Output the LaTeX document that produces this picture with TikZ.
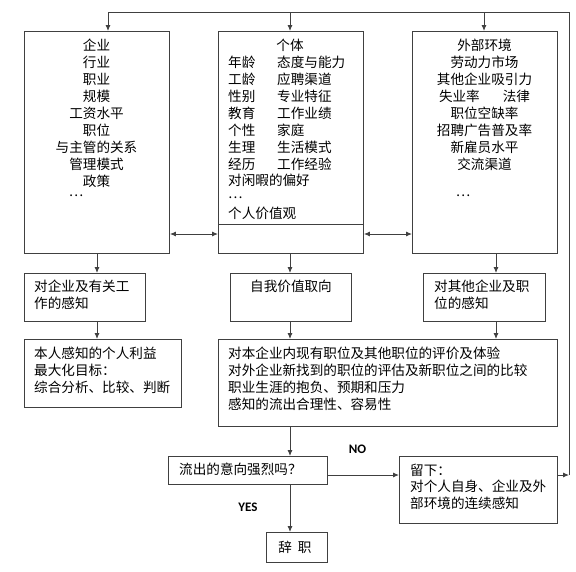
\documentclass[tikz,border=0pt]{standalone}
\usepackage{fontspec}
\newfontfamily\cjk{Noto Sans CJK SC}
\newfontfamily\carlito{Carlito}
\usetikzlibrary{arrows.meta}

\begin{document}
\begin{tikzpicture}
  [
    x = 1pt, y = -1pt,
    box/.style = {draw = black!75, line width = 0.9pt, anchor = north west, inner sep = 0pt},
    wire/.style = {draw = black!75, line width = 0.9pt},
    flow/.style = {wire, -{Latex[length = 6pt, width = 5pt]}},
    link/.style = {wire, {Latex[length = 6pt, width = 5pt]}-{Latex[length = 6pt, width = 5pt]}},
    txt/.style = {font = \cjk\fontsize{13.6}{17}\selectfont, inner sep = 0pt},
    yesno/.style = {font = \carlito\bfseries\fontsize{13}{15}\selectfont, inner sep = 0pt},
  ]

  \useasboundingbox (0,0) rectangle (576,571);

  \node[box, minimum width = 145, minimum height = 222] (org) at (24,31) {};
  \node[box, minimum width = 145, minimum height = 222] (person) at (218,31) {};
  \node[box, minimum width = 145, minimum height = 222] (env) at (412,31) {};
  \node[box, minimum width = 121, minimum height = 48] (orgview) at (24,273) {};
  \node[box, minimum width = 121, minimum height = 48] (selfview) at (230,273) {};
  \node[box, minimum width = 122, minimum height = 48] (envview) at (423,273) {};
  \node[box, minimum width = 157, minimum height = 68] (gain) at (24,339) {};
  \node[box, minimum width = 339, minimum height = 87] (judge) at (218,339) {};
  \node[box, minimum width = 159, minimum height = 28] (ask) at (168,456) {};
  \node[box, minimum width = 158, minimum height = 67] (stay) at (399,456) {};
  \node[box, minimum width = 61, minimum height = 30] (quit) at (266,532) {};

  \draw[wire] (person.west |- 0,224) -- (person.east |- 0,224);

  \foreach \t [count=\i] in {企业, 行业, 职业, 规模, 工资水平, 职位, 与主管的关系, 管理模式, 政策}
  \node[txt] (orgitem\i) at (96.5, {28+17*\i}) {\t};
  \node[txt] (orgmore) at (76,196) {…};

  \node[txt] (personhead) at (290,45) {个体};
  \foreach \a/\b [count=\i] in {年龄/态度与能力, 工龄/应聘渠道, 性别/专业特征, 教育/工作业绩,
      个性/家庭, 生理/生活模式, 经历/工作经验}{
      \node[txt, anchor = west] (persona\i) at (228, {45+17*\i}) {\a};
      \node[txt, anchor = west] (personb\i) at (277, {45+17*\i}) {\b};
    }
  \node[txt, anchor = west] (leisure) at (228,180.5) {对闲暇的偏好};
  \node[txt, anchor = west] (personmore) at (228,197.5) {…};
  \node[txt, anchor = west] (values) at (228,213) {个人价值观};

  \foreach \t [count=\i] in {外部环境, 劳动力市场, 其他企业吸引力, 失业率\hspace{23pt}法律, 职位空缺率,
      招聘广告普及率, 新雇员水平, 交流渠道}
  \node[txt] (envitem\i) at (484.5, {28+17*\i}) {\t};
  \node[txt] (envmore) at (463,196) {…};

  \node[txt, anchor = west] (orgview1) at (34,286) {对企业及有关工};
  \node[txt, anchor = west] (orgview2) at (34,303) {作的感知};
  \node[txt, anchor = west] (selfview1) at (250,286) {自我价值取向};
  \node[txt, anchor = west] (envview1) at (434,286) {对其他企业及职};
  \node[txt, anchor = west] (envview2) at (434,303) {位的感知};

  \foreach \t [count=\i] in {本人感知的个人利益, 最大化目标：, 综合分析、比较、判断}
  \node[txt, anchor = west] (gain\i) at (34, {336+17*\i}) {\t};

  \foreach \t [count=\i] in {对本企业内现有职位及其他职位的评价及体验,
      对外企业新找到的职位的评估及新职位之间的比较,
      职业生涯的抱负、预期和压力, 感知的流出合理性、容易性}
  \node[txt, anchor = west] (judge\i) at (228, {336+17*\i}) {\t};

  \node[txt, anchor = west] (asktext) at (179,469) {流出的意向强烈吗？};
  \foreach \t [count=\i] in {留下：, 对个人自身、企业及外, 部环境的连续感知}
  \node[txt, anchor = west] (stay\i) at (410, {453.5+16.5*\i}) {\t};
  \node[txt] (quittext) at (295,547) {辞\hspace{6pt}职};

  \node[yesno] (nolabel) at (357.5,449) {NO};
  \node[yesno] (yeslabel) at (248,507.5) {YES};

  \coordinate (loopin) at (569,475);
  \coordinate (looptop) at (569,12);
  \coordinate (loopend) at (108,12);

  \draw[flow] (stay.east |- loopin) -- (loopin);
  \draw[wire] (loopin) -- (looptop) -- (loopend);
  \foreach \b/\x in {org/108, person/290, env/484}
  \draw[flow] (\x,12) -- (\b.north -| \x,0);

  \draw[link] (org.east |- 0,234) -- (person.west |- 0,234);
  \draw[link] (person.east |- 0,234) -- (env.west |- 0,234);

  \foreach \a/\b/\x in {org/orgview/97, orgview/gain/97, person/selfview/290, selfview/judge/290,
      judge/ask/290, ask/quit/290, env/envview/496, envview/judge/496}
  \draw[flow] (\a.south -| \x,0) -- (\b.north -| \x,0);

  \draw[flow] (ask.east |- 0,475) -- (stay.west |- 0,475);

\end{tikzpicture}
\end{document}
